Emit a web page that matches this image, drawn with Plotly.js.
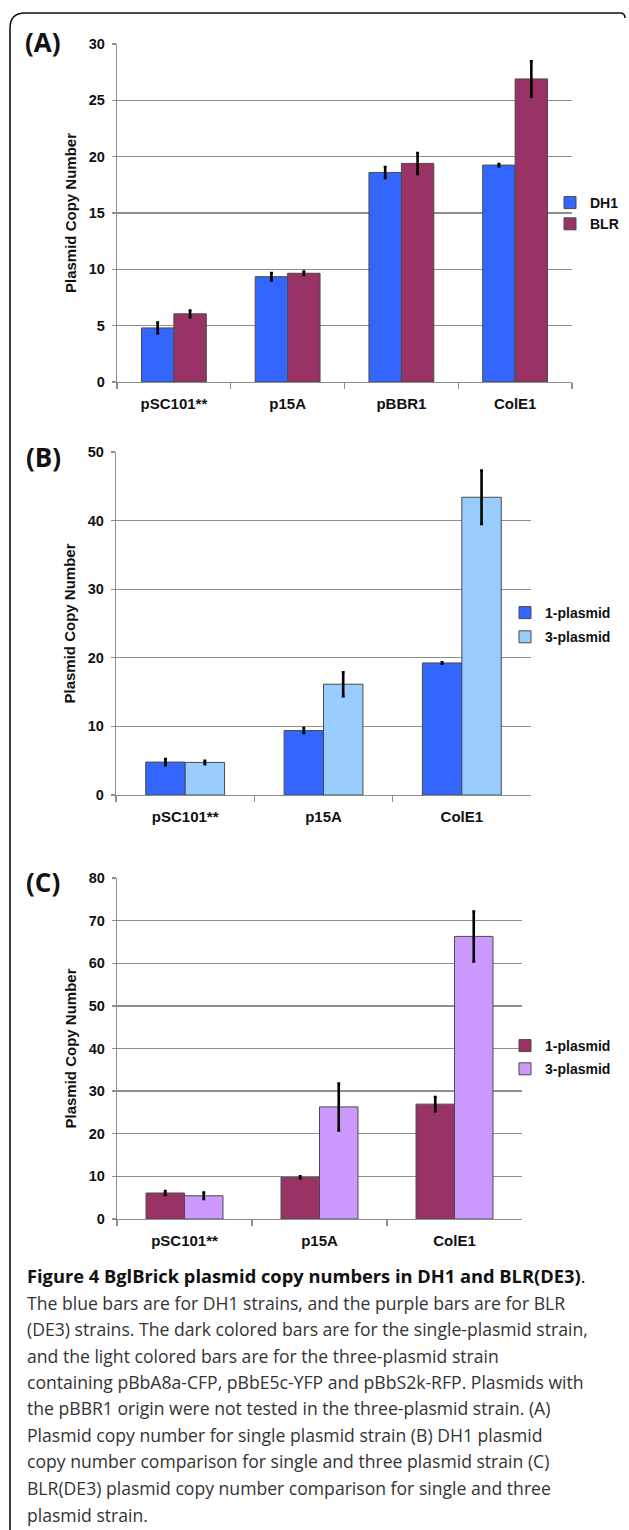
<!DOCTYPE html>
<html>
<head>
<meta charset="utf-8">
<script src="https://cdn.plot.ly/plotly-3.0.1.min.js"></script>
<style>
html,body{margin:0;padding:0;background:#fff;}
#chart{width:629px;height:1530px;}
</style>
</head>
<body>
<div id="chart"></div>
<script>
// ---------- data ----------
const categoriesA = ['pSC101**', 'p15A', 'pBBR1', 'ColE1'];
const dh1A = [4.8, 9.35, 18.6, 19.25];
const dh1AErr = [0.47, 0.33, 0.48, 0.1];
const blrA = [6.05, 9.65, 19.4, 26.9];
const blrAErr = [0.3, 0.15, 0.93, 1.57];

const categoriesB = ['pSC101**', 'p15A', 'ColE1'];
const onePlasmidB = [4.8, 9.4, 19.25];
const onePlasmidBErr = [0.45, 0.35, 0.1];
const threePlasmidB = [4.75, 16.15, 43.4];
const threePlasmidBErr = [0.25, 1.75, 3.9];

const categoriesC = ['pSC101**', 'p15A', 'ColE1'];
const onePlasmidC = [6.1, 9.8, 26.95];
const onePlasmidCErr = [0.45, 0.2, 1.65];
const threePlasmidC = [5.45, 26.3, 66.3];
const threePlasmidCErr = [0.75, 5.5, 5.85];

const yTitle = 'Plasmid Copy Number';
const panelLabels = ['(A)', '(B)', '(C)'];
const captionLines = [
  '<b>Figure 4 BglBrick plasmid copy numbers in DH1 and BLR(DE3)</b>.',
  'The blue bars are for DH1 strains, and the purple bars are for BLR',
  '(DE3) strains. The dark colored bars are for the single-plasmid strain,',
  'and the light colored bars are for the three-plasmid strain',
  'containing pBbA8a-CFP, pBbE5c-YFP and pBbS2k-RFP. Plasmids with',
  'the pBBR1 origin were not tested in the three-plasmid strain. (A)',
  'Plasmid copy number for single plasmid strain (B) DH1 plasmid',
  'copy number comparison for single and three plasmid strain (C)',
  'BLR(DE3) plasmid copy number comparison for single and three',
  'plasmid strain.'
];

// ---------- styling helpers ----------
const W = 629, H = 1530;
const px = x => x / W;
const py = y => 1 - y / H;
const FONT = 'Liberation Sans, Arial, sans-serif';
const AX = '#8e8e8e';
const C_BLUE = '#3366FF', C_PURPLE = '#993366', C_LBLUE = '#99CCFF', C_LPURPLE = '#CC99FF';

function err(arr) {
  return {type: 'data', array: arr, visible: true, color: '#000', thickness: 2.6, width: 1.5};
}
function bar(x, y, e, name, color, xa, ya, leg, grp) {
  return {
    type: 'bar', x: x, y: y, name: name, error_y: err(e),
    marker: {color: color, line: {color: '#4a4a4a', width: 1}},
    xaxis: xa, yaxis: ya, legend: leg, legendgroup: grp, hoverinfo: 'skip'
  };
}

const data = [
  bar(categoriesA, dh1A, dh1AErr, 'DH1', C_BLUE, 'x', 'y', 'legend', 'a1'),
  bar(categoriesA, blrA, blrAErr, 'BLR', C_PURPLE, 'x', 'y', 'legend', 'a2'),
  bar(categoriesB, onePlasmidB, onePlasmidBErr, '1-plasmid', C_BLUE, 'x2', 'y2', 'legend2', 'b1'),
  bar(categoriesB, threePlasmidB, threePlasmidBErr, '3-plasmid', C_LBLUE, 'x2', 'y2', 'legend2', 'b2'),
  bar(categoriesC, onePlasmidC, onePlasmidCErr, '1-plasmid', C_PURPLE, 'x3', 'y3', 'legend3', 'c1'),
  bar(categoriesC, threePlasmidC, threePlasmidCErr, '3-plasmid', C_LPURPLE, 'x3', 'y3', 'legend3', 'c2')
];

function xAxis(x0, x1, anchor) {
  return {
    domain: [px(x0), px(x1)], anchor: anchor, type: 'category',
    showline: true, linecolor: AX, linewidth: 1.3,
    ticks: 'outside', tickson: 'boundaries', ticklen: 6, tickcolor: AX, tickwidth: 1.3,
    showgrid: false, zeroline: false,
    tickfont: {family: FONT, size: 15, color: '#111', weight: 'bold'},
    ticklabelstandoff: 8
  };
}
function yAxis(yBottom, yTop, max, dtick, anchor) {
  return {
    domain: [py(yBottom), py(yTop)], anchor: anchor, range: [0, max], dtick: dtick,
    showline: true, linecolor: AX, linewidth: 1.3,
    ticks: 'outside', ticklen: 4, tickcolor: AX, tickwidth: 1.3,
    showgrid: true, gridcolor: AX, gridwidth: 1.3, zeroline: false,
    tickfont: {family: FONT, size: 14.5, color: '#111', weight: 'bold'},
    ticklabelstandoff: 4,
    title: {text: yTitle, font: {family: FONT, size: 15, color: '#111', weight: 'bold'}, standoff: 8}
  };
}
function legend(xLeft, yCenter, gap) {
  return {
    x: px(xLeft), xanchor: 'left', y: py(yCenter), yanchor: 'middle',
    bgcolor: 'rgba(0,0,0,0)', borderwidth: 0, tracegroupgap: gap, traceorder: 'grouped',
    font: {family: FONT, size: 14, color: '#111', weight: 'bold'}
  };
}

const annotations = [];
[[43, 42], [43, 457], [43, 882]].forEach((p, i) => {
  annotations.push({
    text: '<b>' + panelLabels[i] + '</b>', xref: 'paper', yref: 'paper',
    x: px(p[0]), y: py(p[1]), xanchor: 'center', yanchor: 'middle', showarrow: false,
    font: {family: 'Open Sans, sans-serif', size: 26, color: '#111'}
  });
});
const capY = [1275, 1303, 1329, 1356, 1382, 1408, 1435, 1461, 1488, 1515];
captionLines.forEach((t, i) => {
  annotations.push({
    text: t, xref: 'paper', yref: 'paper', x: px(25), y: py(capY[i]),
    xanchor: 'left', yanchor: 'middle', showarrow: false,
    font: {family: 'Open Sans, sans-serif', size: i === 0 ? 18.3 : 17.6, color: i === 0 ? '#111' : '#333'}
  });
});

const framePath = 'M ' + px(10) + ',' + py(1530) + ' L ' + px(10) + ',' + py(28) +
  ' Q ' + px(10) + ',' + py(13) + ' ' + px(25) + ',' + py(13) +
  ' L ' + px(620) + ',' + py(13) + ' Q ' + px(625) + ',' + py(13) + ' ' + px(625) + ',' + py(18);

const layout = {
  width: W, height: H, margin: {l: 0, r: 0, t: 0, b: 0},
  paper_bgcolor: '#fff', plot_bgcolor: '#fff',
  barmode: 'group', bargap: 0.43, bargroupgap: 0,
  font: {family: FONT, color: '#111'},
  xaxis: xAxis(117, 572, 'y'),
  yaxis: yAxis(382, 44, 30, 5, 'x'),
  xaxis2: xAxis(116, 531, 'y2'),
  yaxis2: yAxis(795, 452, 50, 10, 'x2'),
  xaxis3: xAxis(117, 522, 'y3'),
  yaxis3: yAxis(1219, 878, 80, 10, 'x3'),
  legend: legend(550, 213.5, 0),
  legend2: legend(505, 625, 3),
  legend3: legend(505, 1057.5, 2),
  annotations: annotations,
  shapes: [{type: 'path', xref: 'paper', yref: 'paper', path: framePath,
            line: {color: '#111', width: 1.6}}]
};

Plotly.newPlot('chart', data, layout, {staticPlot: true, displayModeBar: false});
</script>
</body>
</html>
